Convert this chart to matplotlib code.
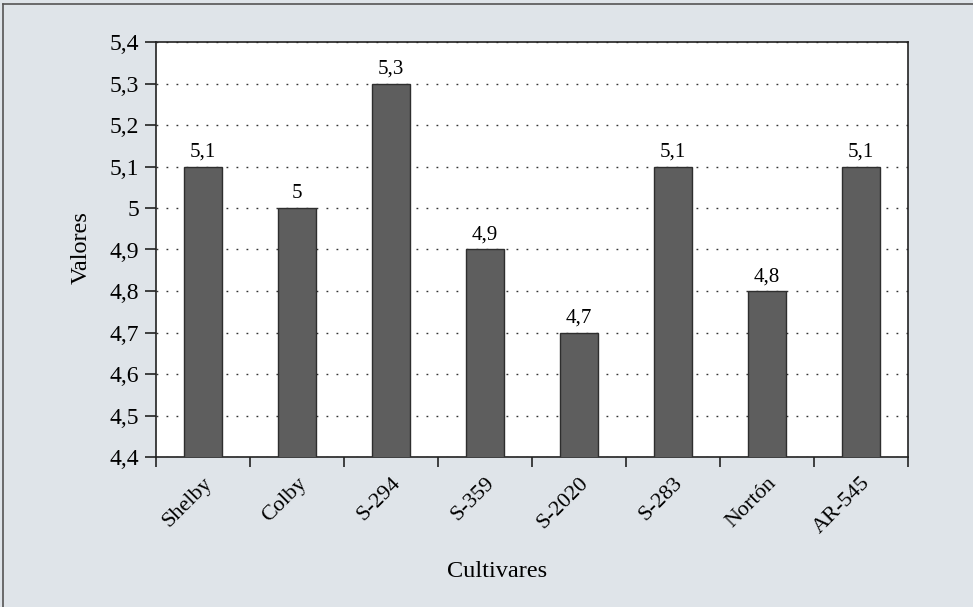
import matplotlib
matplotlib.use("Agg")
import matplotlib.pyplot as plt
from matplotlib.lines import Line2D
from matplotlib.ticker import FixedLocator
from matplotlib.transforms import ScaledTranslation

cultivares = ["Shelby", "Colby", "S-294", "S-359", "S-2020", "S-283", "Nortón", "AR-545"]
valores = [5.1, 5.0, 5.3, 4.9, 4.7, 5.1, 4.8, 5.1]
y_ticks = [4.4, 4.5, 4.6, 4.7, 4.8, 4.9, 5.0, 5.1, 5.2, 5.3, 5.4]


def fmt(v):
    s = f"{v:.1f}".replace(".", ",")
    return s[:-2] if s.endswith(",0") else s


plt.rcParams["font.family"] = ["Liberation Serif", "DejaVu Serif"]

W, H = 973, 607
fig = plt.figure(figsize=(W / 100, H / 100), dpi=100, facecolor="#dfe4e9")
left, right, top, bottom = 156, 908, 42, 457
ax = fig.add_axes([left / W, 1 - bottom / H, (right - left) / W, (bottom - top) / H])
ax.set_facecolor("white")

x = list(range(len(cultivares)))
bars = ax.bar(x, valores, width=0.41, color="#5e5e5e", edgecolor="#2e2e2e",
              linewidth=1.0, zorder=3)

ax.set_ylim(y_ticks[0], y_ticks[-1])
ax.set_xlim(-0.5, len(cultivares) - 0.5)
ax.set_yticks(y_ticks)
ax.set_yticklabels([fmt(v) for v in y_ticks], fontsize=17)
ax.yaxis.grid(True, linestyle=(0, (1.3, 5.9)), color="#333333", linewidth=1.0, zorder=1)

# category ticks sit on the slot boundaries
ax.xaxis.set_major_locator(FixedLocator([i - 0.5 for i in range(len(cultivares) + 1)]))
ax.xaxis.set_minor_locator(FixedLocator(x))
ax.set_xticklabels([])
labels = ax.set_xticklabels(cultivares, minor=True, rotation=45, ha="right",
                            rotation_mode="anchor", fontsize=16)
shift = ScaledTranslation(-9 / 100, -6 / 100, fig.dpi_scale_trans)
for lab in labels:
    lab.set_transform(lab.get_transform() + shift)
ax.tick_params(axis="x", which="minor", length=0, pad=12)
ax.tick_params(axis="x", which="major", length=7.5, width=1.2, direction="out", color="#222222")
ax.tick_params(axis="y", length=8, width=1.2, direction="out", color="#222222", pad=4)

for s in ax.spines.values():
    s.set_color("#222222")
    s.set_linewidth(1.2)

for b, v in zip(bars, valores):
    ax.annotate(fmt(v), (b.get_x() + b.get_width() / 2, v), xytext=(0, 3.5),
                textcoords="offset points", ha="center", va="bottom", fontsize=15)

ax.set_xlabel("Cultivares", fontsize=17.5)
ax.xaxis.set_label_coords(0.453, -0.25)
ax.set_ylabel("Valores", fontsize=17.5)
ax.yaxis.set_label_coords(-0.085, 0.505)

# thin frame along the top and left edge of the figure
fig.add_artist(Line2D([3 / W, 3 / W], [0, 1 - 4 / H], color="#555555", lw=1.2))
fig.add_artist(Line2D([3 / W, 1], [1 - 4 / H, 1 - 4 / H], color="#555555", lw=1.2))

fig.savefig("out.png", dpi=100, facecolor=fig.get_facecolor())
